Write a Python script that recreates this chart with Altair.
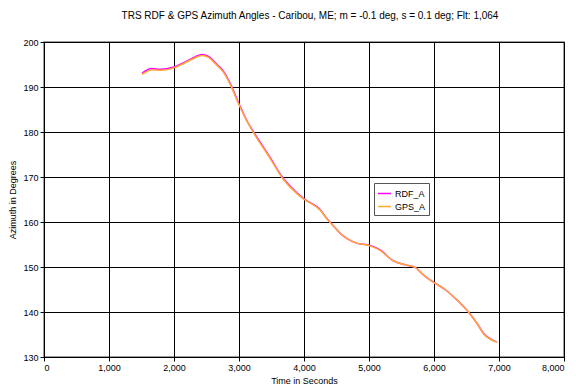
import altair as alt
import pandas as pd

time_s = [1510, 1660, 1790, 1990, 2090, 2270, 2430, 2530, 2660, 2760, 2860, 3005,
          3140, 3220, 3480, 3660, 3890, 4005, 4250, 4350, 4500, 4550, 4810, 5015,
          5170, 5370, 5580, 5710, 5840, 6015, 6170, 6300, 6530, 6660, 6790, 6860, 6970]
rdf_a = [193.1, 194.1, 193.95, 194.4, 195.0, 196.3, 197.2, 196.8, 195.0, 193.5, 190.9, 186.1,
         182.0, 180.1, 174.3, 170.1, 166.5, 165.1, 162.7, 160.8, 158.4, 157.6, 155.3, 154.8,
         153.8, 151.4, 150.4, 149.9, 148.2, 146.4, 145.0, 143.4, 140.0, 137.5, 134.8, 134.1, 133.3]
gps_a = [192.8, 193.8, 193.7, 194.2, 194.8, 196.1, 197.0, 196.6, 194.8, 193.3, 190.7, 185.9,
         181.9, 179.9, 174.1, 169.9, 166.3, 165.0, 162.6, 160.7, 158.4, 157.6, 155.3, 154.7,
         153.7, 151.4, 150.4, 149.9, 148.2, 146.4, 145.0, 143.4, 140.0, 137.5, 134.7, 134.0, 133.3]

series_names = ["RDF_A", "GPS_A"]
series_colors = ["#FF00FF", "#FFAA33"]
x_ticks = [0, 1000, 2000, 3000, 4000, 5000, 6000, 7000, 8000]
y_ticks = [130, 140, 150, 160, 170, 180, 190, 200]

df = pd.concat([
    pd.DataFrame({"t": time_s, "az": rdf_a, "series": "RDF_A", "k": 0}),
    pd.DataFrame({"t": time_s, "az": gps_a, "series": "GPS_A", "k": 1}),
])

FONT = "Liberation Sans"

axis_common = dict(
    grid=True,
    gridColor="black",
    gridWidth=1,
    domainColor="black",
    tickColor="black",
    tickSize=4,
    labelFont=FONT,
    labelFontSize=9,
    labelColor="black",
    titleFont=FONT,
    titleFontSize=9,
    titleColor="black",
    titleFontWeight="normal",
    labelPadding=2,
)

chart = alt.Chart(df).mark_line(strokeWidth=1.5, interpolate="monotone").encode(
    x=alt.X("t:Q",
            scale=alt.Scale(domain=[0, 8000], nice=False),
            axis=alt.Axis(title="Time in Seconds", values=x_ticks, format=",.0f",
                          titlePadding=4, **axis_common)),
    y=alt.Y("az:Q",
            scale=alt.Scale(domain=[130, 200], nice=False, zero=False),
            axis=alt.Axis(title="Azimuth in Degrees", values=y_ticks, format=".0f",
                          titlePadding=5, **axis_common)),
    color=alt.Color("series:N",
                    scale=alt.Scale(domain=series_names, range=series_colors),
                    legend=alt.Legend(title=None, orient="none", legendX=330, legendY=141,
                                      symbolType="stroke", symbolSize=170, symbolStrokeWidth=1.5,
                                      labelFont=FONT, labelFontSize=9, labelColor="black",
                                      labelOffset=3,
                                      strokeColor="#555555", padding=3, rowPadding=0,
                                      fillColor="white")),
    order=alt.Order("k:Q"),
).properties(
    width=520,
    height=315,
    autosize="none",
    padding={"left": 36, "top": 34, "right": 4, "bottom": 40},
    title=alt.TitleParams(
        "TRS RDF & GPS Azimuth Angles - Caribou, ME; m = -0.1 deg, s = 0.1 deg; Flt: 1,064",
        font=FONT, fontSize=10, fontWeight="normal", color="black",
        anchor="middle", offset=17, dx=6),
).configure_view(stroke="#808080", strokeWidth=1.5)

chart.save("out.html", embed_options={"renderer": "svg", "actions": False})
